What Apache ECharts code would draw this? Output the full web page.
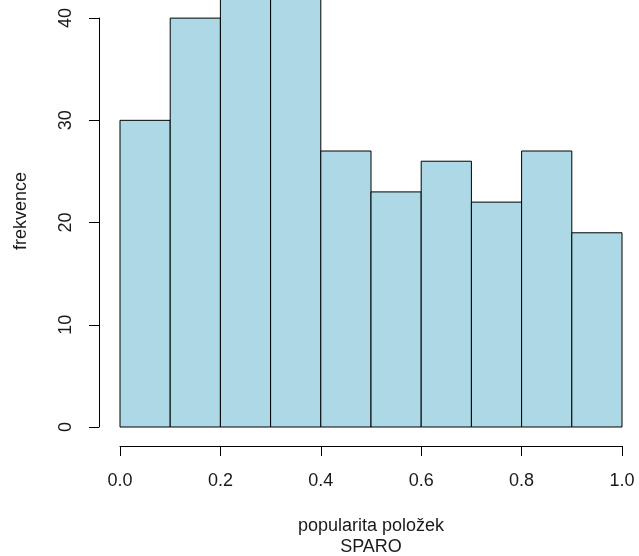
<!DOCTYPE html>
<html>
<head>
<meta charset="utf-8">
<script src="https://cdn.jsdelivr.net/npm/echarts@6/dist/echarts.min.js"></script>
<style>
html,body{margin:0;padding:0;background:#fff;}
#chart{width:639px;height:556px;}
</style>
</head>
<body>
<div id="chart"></div>
<script>
// Histogram data
const breaks = [0.0, 0.1, 0.2, 0.3, 0.4, 0.5, 0.6, 0.7, 0.8, 0.9, 1.0];
const counts = [30, 40, 46, 44, 27, 23, 26, 22, 27, 19];
const xTicks = [0.0, 0.2, 0.4, 0.6, 0.8, 1.0];
const yTicks = [0, 10, 20, 30, 40];
const xTitle = 'popularita položek\nSPARO';
const yTitle = 'frekvence';

const binData = counts.map((c, i) => [breaks[i], breaks[i + 1], c]);
const FONT = '"Liberation Sans", Arial, sans-serif';
const TXT = '#1a1a1a';

const chart = echarts.init(document.getElementById('chart'), null, {renderer: 'canvas'});
chart.setOption({
  animation: false,
  backgroundColor: '#ffffff',
  textStyle: {fontFamily: FONT},
  grid: [
    {left: 120, right: 17, top: -84.1, bottom: 129, containLabel: false, outerBoundsMode: 'none'},
    {left: 120, right: 17, top: 18, bottom: 129, containLabel: false, outerBoundsMode: 'none'},
    {left: 120, right: 17, top: 0, bottom: 134, containLabel: false, outerBoundsMode: 'none'}
  ],
  xAxis: [
    {
      gridIndex: 0, type: 'value', min: 0, max: 1, interval: 0.2,
      position: 'bottom', offset: 19,
      axisLine: {show: true, onZero: false, lineStyle: {color: '#000', width: 1}},
      axisTick: {show: true, length: 10, lineStyle: {color: '#000', width: 1}},
      splitLine: {show: false},
      axisLabel: {
        fontSize: 18, color: TXT, fontFamily: FONT, margin: 26,
        formatter: v => (xTicks.some(t => Math.abs(t - v) < 1e-9) ? v.toFixed(1) : '')
      },
      name: xTitle, nameLocation: 'middle', nameGap: 70,
      nameTextStyle: {fontSize: 18, color: TXT, fontFamily: FONT, lineHeight: 21}
    },
    {gridIndex: 1, type: 'value', min: 0, max: 1, show: false},
    {gridIndex: 2, type: 'value', min: 0, max: 1, show: false}
  ],
  yAxis: [
    {gridIndex: 0, type: 'value', min: 0, max: 50, show: false},
    {
      gridIndex: 1, type: 'value', min: 0, max: 40, interval: 10,
      position: 'left', offset: 21,
      axisLine: {show: true, onZero: false, lineStyle: {color: '#000', width: 1}},
      axisTick: {show: true, length: 10, lineStyle: {color: '#000', width: 1}},
      splitLine: {show: false},
      axisLabel: {fontSize: 18, color: TXT, fontFamily: FONT, rotate: 90, margin: 24}
    },
    {
      gridIndex: 2, type: 'value', min: 0, max: 1, show: true,
      position: 'left', offset: 21,
      axisLine: {show: false}, axisTick: {show: false}, axisLabel: {show: false},
      splitLine: {show: false},
      name: yTitle, nameLocation: 'middle', nameGap: 69, nameRotate: 90,
      nameTextStyle: {fontSize: 18, color: TXT, fontFamily: FONT}
    }
  ],
  series: [{
    type: 'custom',
    xAxisIndex: 0, yAxisIndex: 0,
    data: binData,
    encode: {x: [0, 1], y: 2},
    clip: false,
    renderItem: function (params, api) {
      const p0 = api.coord([api.value(0), api.value(2)]);
      const p1 = api.coord([api.value(1), 0]);
      return {
        type: 'rect',
        shape: {x: p0[0], y: p0[1], width: p1[0] - p0[0], height: p1[1] - p0[1]},
        style: {fill: '#ADD8E6', stroke: '#000', lineWidth: 1}
      };
    }
  }]
});
</script>
</body>
</html>
